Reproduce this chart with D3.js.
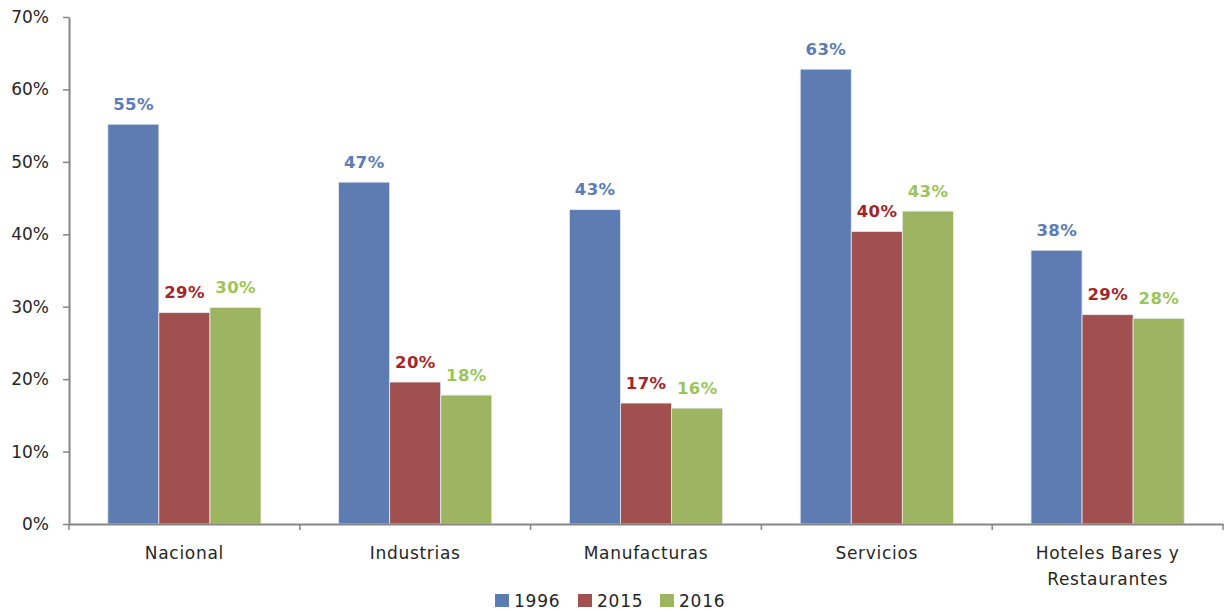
<!DOCTYPE html>
<html>
<head>
<meta charset="utf-8">
<script src="https://cdn.jsdelivr.net/npm/d3@7"></script>
<style>
  html, body { margin: 0; padding: 0; background: #fff; }
  svg { display: block; font-family: "DejaVu Sans", Verdana, sans-serif; }
</style>
</head>
<body>
<svg id="chart" width="1224" height="610"></svg>
<script>
// Sector categories and series
const categories = ["Nacional", "Industrias", "Manufacturas", "Servicios", "Hoteles Bares y Restaurantes"];
const categoryLines = [["Nacional"], ["Industrias"], ["Manufacturas"], ["Servicios"], ["Hoteles Bares y", "Restaurantes"]];
const seriesNames = ["1996", "2015", "2016"];
const values1996 = [55.2, 47.2, 43.4, 62.8, 37.8];
const values2015 = [29.2, 19.6, 16.7, 40.4, 28.9];
const values2016 = [29.9, 17.8, 16.0, 43.2, 28.4];
const yTicks = [0, 10, 20, 30, 40, 50, 60, 70];

const barColors = ["#5d7db2", "#a0504e", "#9db461"];
const labelColors = ["#5b7cb8", "#a3262b", "#9bc55a"];

const seriesValues = [values1996, values2015, values2016];

const svg = d3.select("#chart");
const margin = { left: 69, right: 0, top: 17, bottom: 86 };
const W = 1224, H = 610;

const x = d3.scaleBand().domain(categories).range([margin.left, W - margin.right - 1]).paddingInner(0).paddingOuter(0);
const xs = d3.scaleBand().domain(seriesNames).range([0, x.bandwidth()]).paddingInner(0).paddingOuter(0.76);
const y = d3.scaleLinear().domain([0, 70]).range([H - margin.bottom, margin.top]);

// Bars with value labels
seriesNames.forEach((s, si) => {
  svg.append("g").selectAll("rect")
    .data(categories)
    .join("rect")
    .attr("x", c => x(c) + xs(s))
    .attr("width", xs.bandwidth())
    .attr("y", (c, i) => y(seriesValues[si][i]))
    .attr("height", (c, i) => y(0) - y(seriesValues[si][i]))
    .attr("fill", barColors[si])
    .attr("stroke", "#e8ecf2")
    .attr("stroke-width", 0.8);

  svg.append("g").selectAll("text")
    .data(categories)
    .join("text")
    .attr("x", c => x(c) + xs(s) + xs.bandwidth() / 2 + 0.2)
    .attr("y", (c, i) => y(seriesValues[si][i]) - 14.5)
    .attr("text-anchor", "middle")
    .attr("font-size", 16.5)
    .attr("font-weight", "bold")
    .attr("letter-spacing", 0.4)
    .attr("fill", labelColors[si])
    .text((c, i) => Math.round(seriesValues[si][i]) + "%");
});

// Y axis
const yAxis = svg.append("g")
  .attr("transform", `translate(${margin.left},0)`)
  .call(d3.axisLeft(y).tickValues(yTicks).tickFormat(d => d + "%").tickSize(6).tickSizeOuter(0));
yAxis.select(".domain").attr("stroke", "#868686").attr("stroke-width", 2);
yAxis.selectAll(".tick line").attr("stroke", "#868686").attr("stroke-width", 1.5);
yAxis.selectAll(".tick text")
  .attr("x", -20)
  .attr("font-size", 17)
  .attr("font-family", "DejaVu Sans, sans-serif")
  .attr("fill", "#262626");

// X axis with category boundary ticks
const xAxis = svg.append("g")
  .attr("transform", `translate(0,${y(0)})`)
  .call(d3.axisBottom(x).tickSize(0).tickFormat(""));
xAxis.select(".domain").attr("stroke", "#868686").attr("stroke-width", 2);
const bounds = categories.map(c => x(c)).concat([x(categories[categories.length - 1]) + x.bandwidth()]);
xAxis.selectAll(".bound")
  .data(bounds)
  .join("line")
  .attr("x1", d => d).attr("x2", d => d)
  .attr("y1", 0).attr("y2", 6)
  .attr("stroke", "#868686").attr("stroke-width", 1.5);

// Category labels
categories.forEach((c, i) => {
  const t = svg.append("text")
    .attr("x", x(c) + x.bandwidth() / 2)
    .attr("y", y(0) + 35)
    .attr("text-anchor", "middle")
    .attr("font-size", 17)
    .attr("letter-spacing", 0.7)
    .attr("fill", "#262626");
  categoryLines[i].forEach((line, li) => {
    t.append("tspan")
      .attr("x", x(c) + x.bandwidth() / 2)
      .attr("dy", li === 0 ? 0 : 26)
      .text(line);
  });
});

// Legend
const legendX = [495, 578, 660];
const legend = svg.append("g");
seriesNames.forEach((s, si) => {
  legend.append("rect")
    .attr("x", legendX[si]).attr("y", 594)
    .attr("width", 14).attr("height", 13)
    .attr("fill", barColors[si]);
  legend.append("text")
    .attr("x", legendX[si] + 19).attr("y", 607)
    .attr("font-size", 17)
    .attr("letter-spacing", 0.8)
    .attr("fill", "#262626")
    .text(s);
});
</script>
</body>
</html>
